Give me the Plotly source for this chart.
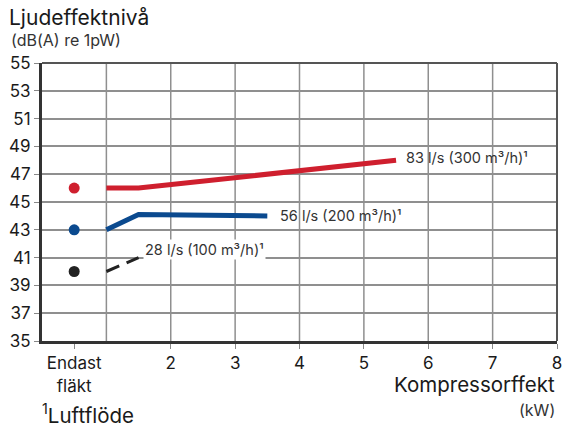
import plotly.graph_objects as go

FONT = "Inter, 'Open Sans', sans-serif"
TEXT = "#1a1a1a"
GRID = "#8f8f8f"

# "Endast fläkt" (fan only) is plotted at x = 0.5
fan_x = [0.5]

red_fan = [46]
red_x = [1, 1.5, 5.5]
red_y = [46, 46, 48]

blue_fan = [43]
blue_x = [1, 1.5, 3.5]
blue_y = [43, 44.1, 44]

black_fan = [40]
black_x = [1, 1.5]
black_y = [40, 41]

series = [
    ("83 l/s (300 m³/h)¹", "#cf1f2e", red_fan, red_x, red_y, "solid"),
    ("56 l/s (200 m³/h)¹", "#0b4a8f", blue_fan, blue_x, blue_y, "solid"),
    ("28 l/s (100 m³/h)¹", "#222222", black_fan, black_x, black_y, "dash"),
]

x_tickvals = [0.5, 2, 3, 4, 5, 6, 7, 8]
x_ticktext = ["Endast<br>fläkt", "2", "3", "4", "5", "6", "7", "8"]
y_tickvals = list(range(35, 56, 2))

fig = go.Figure()
for name, color, fan, xs, ys, dash in series:
    fig.add_trace(go.Scatter(
        x=xs, y=ys, mode="lines",
        line={"color": color, "width": 5 if dash == "solid" else 3, "dash": "14px,8px" if dash == "dash" else "solid"},
        showlegend=False, name=name,
    ))
    fig.add_trace(go.Scatter(
        x=fan_x, y=fan, mode="markers",
        marker={"color": color, "size": 11},
        showlegend=False, hoverinfo="skip",
    ))

# series labels
LABEL_FONT = {"size": 14.5, "color": "#333"}
fig.add_annotation(x=red_x[-1], y=red_y[-1], text=series[0][0], xanchor="left", yanchor="middle",
                   xshift=8, yshift=3, showarrow=False, font=LABEL_FONT)
fig.add_annotation(x=blue_x[-1], y=blue_y[-1], text=series[1][0], xanchor="left", yanchor="middle",
                   xshift=11, showarrow=False, font=LABEL_FONT)
fig.add_annotation(x=black_x[-1], y=black_y[-1], text=series[2][0], xanchor="left", yanchor="bottom",
                   xshift=4, yshift=-2, showarrow=False, font=LABEL_FONT, bgcolor="#ffffff")

# axis titles
fig.add_annotation(xref="paper", yref="paper", x=-0.068, y=1.165, xanchor="left", yanchor="middle",
                   text="Ljudeffektnivå", showarrow=False, font={"size": 21, "color": TEXT})
fig.add_annotation(xref="paper", yref="paper", x=-0.064, y=1.083, xanchor="left", yanchor="middle",
                   text="(dB(A) re 1pW)", showarrow=False, font={"size": 16, "color": "#333"})
fig.add_annotation(xref="paper", yref="paper", x=1.0, y=-0.158, xanchor="right", yanchor="middle",
                   text="Kompressorffekt", showarrow=False, font={"size": 20.5, "color": TEXT})
fig.add_annotation(xref="paper", yref="paper", x=1.0, y=-0.248, xanchor="right", yanchor="middle",
                   text="(kW)", showarrow=False, font={"size": 16, "color": "#333"})
fig.add_annotation(xref="paper", yref="paper", x=-0.004, y=-0.262, xanchor="left", yanchor="middle",
                   text="<sup>1</sup>Luftflöde", showarrow=False, font={"size": 20.5, "color": TEXT})

fig.update_layout(
    width=563, height=428,
    margin={"l": 42, "r": 6, "t": 63, "b": 87, "autoexpand": False},
    paper_bgcolor="#ffffff", plot_bgcolor="#ffffff",
    font={"family": FONT, "color": TEXT, "size": 17},
    xaxis={
        "range": [0, 8], "tickvals": x_tickvals, "ticktext": x_ticktext,
        "showgrid": False, "zeroline": False, "automargin": False,
        "showline": True, "linecolor": "#333", "linewidth": 3, "mirror": False,
        "ticks": "outside", "ticklen": 5, "tickcolor": "#888",
        "tickfont": {"size": 17, "color": TEXT},
    },
    yaxis={
        "range": [35, 55], "tickvals": y_tickvals, "automargin": False,
        "showgrid": True, "gridcolor": GRID, "gridwidth": 1.5, "zeroline": False,
        "showline": True, "linecolor": "#333", "linewidth": 3,
        "ticks": "outside", "ticklen": 5, "tickcolor": "#888",
        "tickfont": {"size": 17, "color": TEXT},
    },
    shapes=[
        # vertical grid lines at each integer kW (1..7)
        *[{"type": "line", "xref": "x", "yref": "paper", "x0": v, "x1": v, "y0": 0, "y1": 1,
           "line": {"color": GRID, "width": 1.5}, "layer": "below"} for v in range(1, 8)],
        # top and right border
        {"type": "line", "xref": "paper", "yref": "paper", "x0": 0, "x1": 1, "y0": 1, "y1": 1,
         "line": {"color": "#555", "width": 2}},
        {"type": "line", "xref": "paper", "yref": "paper", "x0": 1, "x1": 1, "y0": 0, "y1": 1,
         "line": {"color": "#555", "width": 2}},
    ],
)

# the page body has a default 8px margin; drop it so the figure fills the window
fig.write_html("out.html", config={"displayModeBar": False},
               post_script="document.body.style.margin='0';")
